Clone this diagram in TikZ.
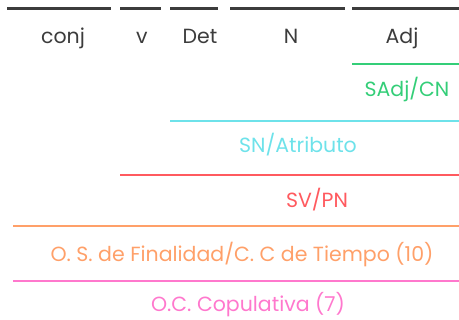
\documentclass[tikz,border=0pt]{standalone}
\usepackage{fontspec}
\setmainfont{Poppins}
\definecolor{ana_ink}{RGB}{60, 60, 60}
\definecolor{ana_green}{RGB}{52, 206, 120}
\definecolor{ana_cyan}{RGB}{110, 226, 234}
\definecolor{ana_red}{RGB}{255, 90, 95}
\definecolor{ana_orange}{RGB}{255, 160, 105}
\definecolor{ana_pink}{RGB}{255, 120, 205}

\begin{document}
\begin{tikzpicture}[x=1pt, y=-1pt,
      word/.style={font=\fontsize{20.5}{24}\selectfont, text=ana_ink, anchor=base},
      tag/.style={font=\fontsize{20.5}{24}\selectfont, anchor=base},
      topbar/.style={line width=3pt, ana_ink},
      bar/.style={line width=2.6pt},
    ]
      \useasboundingbox (0,0) rectangle (459,320);

      % palabras
      \draw[topbar] (7,9)   -- (111,9);
      \draw[topbar] (120,9) -- (161,9);
      \draw[topbar] (170,9) -- (218,9);
      \draw[topbar] (230,9) -- (345,9);
      \draw[topbar] (352,9) -- (459,9);

      \node[word] (conj) at (63, 44)  {conj};
      \node[word] (v)    at (142, 44) {v};
      \node[word] (det)  at (200, 44) {Det};
      \node[word] (n)    at (291, 44) {N};
      \node[word] (adj)  at (402, 44) {Adj};

      % sintagmas
      \draw[bar, ana_green]  (352,64)  -- (459,64);
      \node[tag, ana_green]  (sadj) at (407, 97) {SAdj/CN};

      \draw[bar, ana_cyan]   (170,121) -- (459,121);
      \node[tag, ana_cyan]   (sn)   at (298, 153) {SN/Atributo};

      \draw[bar, ana_red]    (120,175) -- (459,175);
      \node[tag, ana_red]    (sv)   at (317, 208) {SV/PN};

      % oraciones
      \draw[bar, ana_orange] (13,226)  -- (459,226);
      \node[tag, ana_orange] (os)   at (242, 262) {O. S. de Finalidad/C. C de Tiempo (10)};

      \draw[bar, ana_pink]   (13,281)  -- (459,281);
      \node[tag, ana_pink]   (oc)   at (248, 312) {O.C. Copulativa (7)};
    \end{tikzpicture}
\end{document}
